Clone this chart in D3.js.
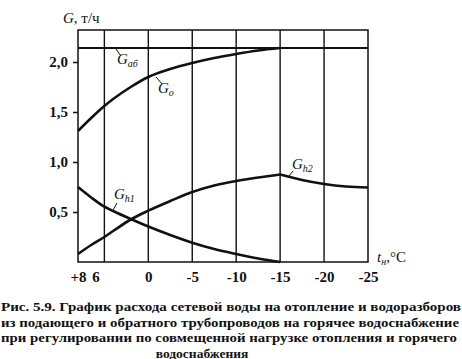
<!DOCTYPE html>
<html>
<head>
<meta charset="utf-8">
<script src="https://cdn.jsdelivr.net/npm/d3@7"></script>
<style>
  body { margin: 0; background: #fff; }
  svg text { font-family: "Liberation Serif", "DejaVu Serif", serif; fill: #111; }
</style>
</head>
<body>
<div id="chart"></div>
<script>
// outdoor temperature, degC
var temps = [8, 6.5, 5, 4, 2, 0, -2.5, -5, -7.5, -10, -12.5, -15, -17.5, -20, -22.5, -25];
// flow, t/h
var gAb = [2.14, 2.14];
var gAbTemps = [8, -25];
var gOTemps = [8, 6.5, 5, 4, 2, 0, -2.5, -5, -7.5, -10, -12.5, -15];
var gO = [1.31, 1.44, 1.56, 1.63, 1.75, 1.85, 1.93, 1.99, 2.04, 2.08, 2.115, 2.14];
var gH1Temps = [8, 6.5, 5, 4, 2, 0, -2.5, -5, -7.5, -10, -12.5, -15];
var gH1 = [0.75, 0.645, 0.553, 0.51, 0.43, 0.355, 0.27, 0.193, 0.13, 0.08, 0.035, 0.0];
var gH2 = [0.08, 0.17, 0.25, 0.31, 0.425, 0.513, 0.61, 0.70, 0.765, 0.81, 0.845, 0.875, 0.82, 0.78, 0.755, 0.745];

var xTicks = [8, 6, 0, -5, -10, -15, -20, -25];
var xTickText = ["+8", "6", "0", "-5", "-10", "-15", "-20", "-25"];
var xGrid = [5, 0, -5, -10, -15, -20];
var yTicks = [0.5, 1.0, 1.5, 2.0];

var caption = [
  "Рис. 5.9. График расхода сетевой воды на отопление и водоразборов",
  "из подающего и обратного трубопроводов на горячее водоснабжение",
  "при регулировании по совмещенной нагрузке отопления и горячего",
  "водоснабжения"
];

var width = 462, height = 359;
var plot = {left: 78, right: 368, top: 30, bottom: 262};

var svg = d3.select("#chart").append("svg")
  .attr("width", width)
  .attr("height", height);

var x = d3.scaleLinear().domain([8, -25]).range([plot.left, plot.right]);
var y = d3.scaleLinear().domain([0, 2.32]).range([plot.bottom, plot.top]);

// vertical grid lines
svg.append("g")
  .selectAll("line")
  .data(xGrid)
  .enter()
  .append("line")
  .attr("x1", function(d) { return x(d); })
  .attr("x2", function(d) { return x(d); })
  .attr("y1", plot.top)
  .attr("y2", plot.bottom)
  .attr("stroke", "#111")
  .attr("stroke-width", 1.4);

// frame
svg.append("rect")
  .attr("x", plot.left)
  .attr("y", plot.top)
  .attr("width", plot.right - plot.left)
  .attr("height", plot.bottom - plot.top)
  .attr("fill", "none")
  .attr("stroke", "#111")
  .attr("stroke-width", 1.5);

// y axis
var yAxis = svg.append("g")
  .attr("transform", "translate(" + plot.left + ",0)")
  .call(d3.axisLeft(y)
    .tickValues(yTicks)
    .tickSize(5)
    .tickPadding(5)
    .tickFormat(function(d) { return d.toFixed(1).replace(".", ","); }));
yAxis.select(".domain").remove();
yAxis.selectAll("line").attr("stroke", "#111").attr("stroke-width", 1.5);
yAxis.selectAll("text")
  .style("font-family", "Liberation Serif, serif")
  .style("font-size", "15px")
  .style("font-weight", "bold")
  .attr("fill", "#111");

// x axis labels
var xAxis = svg.append("g")
  .attr("transform", "translate(0," + plot.bottom + ")")
  .call(d3.axisBottom(x)
    .tickValues(xTicks)
    .tickSize(0)
    .tickPadding(9)
    .tickFormat(function(d, i) { return xTickText[i]; }));
xAxis.select(".domain").remove();
xAxis.selectAll("text")
  .style("font-family", "Liberation Serif, serif")
  .style("font-size", "15px")
  .style("font-weight", "bold")
  .attr("fill", "#111");

// curves
function series(ts, vs) {
  return ts.map(function(t, i) { return [-t, vs[i]]; });
}
var lineRev = d3.line()
  .x(function(d) { return x(-d[0]); })
  .y(function(d) { return y(d[1]); })
  .curve(d3.curveMonotoneX);

svg.append("path")
  .datum(series(gAbTemps, gAb))
  .attr("d", lineRev)
  .attr("fill", "none").attr("stroke", "#111").attr("stroke-width", 2);

var h2Left = series(temps.slice(0, 12), gH2.slice(0, 12));
var h2Right = series(temps.slice(11), gH2.slice(11));

[series(gOTemps, gO), series(gH1Temps, gH1), h2Left, h2Right].forEach(function(s) {
  svg.append("path")
    .datum(s)
    .attr("d", lineRev)
    .attr("fill", "none")
    .attr("stroke", "#111")
    .attr("stroke-width", 2.6);
});

// curve labels with leaders
function curveLabel(sub, lx, ly, x1, y1, x2, y2) {
  svg.append("line")
    .attr("x1", x1).attr("y1", y1).attr("x2", x2).attr("y2", y2)
    .attr("stroke", "#111").attr("stroke-width", 1);
  var t = svg.append("text")
    .attr("x", lx).attr("y", ly)
    .style("font-size", "15px")
    .style("font-style", "italic");
  t.append("tspan").text("G");
  t.append("tspan")
    .attr("dy", 3)
    .style("font-size", "10px")
    .text(sub);
}
curveLabel("аб", 117, 64, 116, 49, 121, 56);
curveLabel("o", 158, 93, 156, 77, 162, 84);
curveLabel("h1", 114, 199, 112, 212, 117, 203);
curveLabel("h2", 292, 169, 289, 176, 293, 171);

// axis titles
var gt = svg.append("text").attr("x", 63).attr("y", 23).style("font-size", "15px");
gt.append("tspan").style("font-style", "italic").text("G");
gt.append("tspan").text(", т/ч");

var tt = svg.append("text").attr("x", 377).attr("y", 262).style("font-size", "15px");
tt.append("tspan").style("font-style", "italic").text("t");
tt.append("tspan").attr("dy", 3).style("font-size", "10px").style("font-style", "italic").text("н");
tt.append("tspan").attr("dy", -3).text(",°C");

// caption
var capWidths = [460, 458, 456, null];
caption.forEach(function(c, i) {
  var t = svg.append("text")
    .attr("y", 311 + i * 15.5)
    .style("font-size", "13.5px")
    .style("font-weight", "bold")
    .text(c);
  if (capWidths[i]) {
    t.attr("x", 1).attr("textLength", capWidths[i]).attr("lengthAdjust", "spacingAndGlyphs");
  } else {
    t.attr("x", 202).attr("text-anchor", "middle");
  }
});
</script>
</body>
</html>
